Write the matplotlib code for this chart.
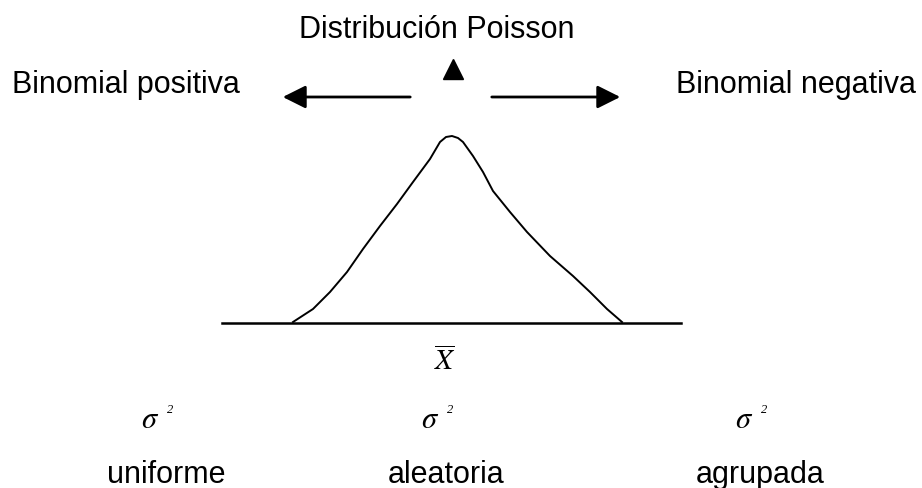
import matplotlib
matplotlib.use("Agg")
import matplotlib.pyplot as plt

plt.rcParams["font.family"] = ["Liberation Sans", "DejaVu Sans"]
plt.rcParams["mathtext.fontset"] = "stix"

# curva (x, altura sobre la linea base)
curva_x = [293, 313, 330, 347, 363, 380, 397, 413, 430, 440, 446, 452, 458, 463,
           473, 483, 493, 510, 527, 550, 573, 590, 607, 622]
curva_h = [1, 14, 31, 51, 74, 97, 119, 141, 164, 181, 186, 187, 185, 181,
           167, 151, 132, 111, 91, 67, 47, 31, 14, 1]

base_x = [222, 681]
posiciones = [166, 446, 760]
tipos = ["uniforme", "aleatoria", "agrupada"]

Y0 = 324  # linea base en pixeles desde arriba


def y(p):
    return Y0 - p


fig = plt.figure(figsize=(9.22, 4.89), dpi=100)
ax = fig.add_axes([0, 0, 1, 1])
ax.set_xlim(0, 922)
ax.set_ylim(y(489), y(0))
ax.axis("off")

# linea base y curva
ax.plot(base_x, [0, 0], color="black", lw=1.8)
ax.plot(curva_x, curva_h, color="black", lw=1.4)

# titulos superiores
ax.text(437, y(38), "Distribución Poisson", ha="center", va="baseline", fontsize=22)
ax.text(12, y(93), "Binomial positiva", ha="left", va="baseline", fontsize=22)
ax.text(916, y(93), "Binomial negativa", ha="right", va="baseline", fontsize=22)

# flechas
flecha = dict(arrowstyle="-|>,head_length=1.4,head_width=0.7", color="black", lw=2)
ax.annotate("", xy=(280, y(98)), xytext=(413, y(98)), arrowprops=flecha)
ax.annotate("", xy=(623, y(98)), xytext=(489, y(98)), arrowprops=flecha)
ax.plot([453], [y(70)], marker="^", color="black", markersize=14)

# media
ax.text(445, y(370), r"$\overline{X}$", ha="center", va="baseline", fontsize=21)

for x, t in zip(posiciones, tipos):
    ax.text(x - 16, y(428), r"$\sigma$", ha="center", va="baseline", fontsize=22)
    ax.text(x + 1, y(413), "2", ha="left", va="baseline", fontsize=9,
            family="Liberation Serif", style="italic")
    ax.text(x, y(483), t, ha="center", va="baseline", fontsize=22)

fig.savefig("out.png", dpi=100)
